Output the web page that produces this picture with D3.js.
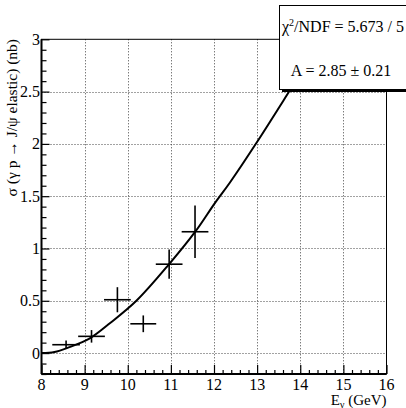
<!DOCTYPE html>
<html lang="en">
<head>
<meta charset="UTF-8">
<title>J/psi photoproduction</title>
<script src="https://cdn.jsdelivr.net/npm/d3@7"></script>
<style>
    body { margin: 0; background: #fff; }
    svg { display: block; }
</style>
</head>
<body>
<div id="graphic"></div>
<script>
    // measured points
    var energy = [8.57, 9.16, 9.76, 10.36, 10.96, 11.56];
    var energyErr = [0.32, 0.31, 0.31, 0.30, 0.31, 0.31];
    var sigma = [0.08, 0.16, 0.51, 0.28, 0.85, 1.16];
    var sigmaErr = [0.04, 0.06, 0.12, 0.08, 0.14, 0.25];

    // fit curve
    var fitE = [8.0, 8.3, 8.65, 9.1, 9.6, 10.2, 10.96, 11.57, 12.02, 12.37, 12.99, 13.72, 14.5];
    var fitSigma = [0, 0.01, 0.057, 0.135, 0.29, 0.5, 0.851, 1.163, 1.434, 1.631, 2.013, 2.486, 3.0];

    var xTicks = [8, 9, 10, 11, 12, 13, 14, 15, 16];
    var yTicks = [0, 0.5, 1, 1.5, 2, 2.5, 3];
    var yTickLabels = ['0', '0.5', '1', '1.5', '2', '2.5', '3'];

    var width = 406, height = 408;
    // plot frame (note: "top" is reserved on window)
    var pLeft = 41.5, pRight = 386.5, pTop = 39.3, pBottom = 374;
    var serif = '"Liberation Serif", "Times New Roman", Times, serif';

    var svg = d3.select('#graphic').append('svg')
        .attr('width', width).attr('height', height)
        .attr('font-family', serif);

    var x = d3.scaleLinear().domain([8, 16]).range([pLeft, pRight]);
    var y = d3.scaleLinear().domain([-0.2, 3]).range([pBottom, pTop]);

    svg.append('defs').append('clipPath').attr('id', 'plot')
        .append('rect').attr('x', pLeft).attr('y', pTop)
        .attr('width', pRight - pLeft).attr('height', pBottom - pTop);

    // grid
    var grid = svg.append('g').attr('stroke', '#444').attr('stroke-width', 1)
        .attr('stroke-dasharray', '1,2');
    grid.selectAll('.gx').data(xTicks.slice(1, -1)).join('line')
        .attr('x1', d => Math.round(x(d)) + 0.5).attr('x2', d => Math.round(x(d)) + 0.5)
        .attr('y1', pTop).attr('y2', pBottom);
    grid.selectAll('.gy').data(yTicks.slice(0, -1)).join('line')
        .attr('y1', d => Math.round(y(d)) + 0.5).attr('y2', d => Math.round(y(d)) + 0.5)
        .attr('x1', pLeft).attr('x2', pRight);

    // axes (ticks inside)
    var xAxis = d3.axisBottom(x).tickValues(d3.range(8, 16.01, 0.2))
        .tickSize(-4).tickFormat('');
    var gx = svg.append('g').attr('transform', 'translate(0,' + pBottom + ')').call(xAxis);
    gx.selectAll('.tick line').filter(d => Math.abs(d - Math.round(d)) < 1e-6).attr('y2', -9);

    var yAxis = d3.axisLeft(y).tickValues(d3.range(-0.2, 3.001, 0.1))
        .tickSize(-5).tickFormat('');
    var gy = svg.append('g').attr('transform', 'translate(' + pLeft + ',0)').call(yAxis);
    gy.selectAll('.tick line').filter(d => Math.abs(d * 2 - Math.round(d * 2)) < 1e-6).attr('x2', 8);

    svg.selectAll('.domain').remove();
    svg.selectAll('.tick line').attr('stroke', '#000').attr('stroke-width', 1.2);

    // frame
    svg.append('rect').attr('x', pLeft).attr('y', pTop)
        .attr('width', pRight - pLeft).attr('height', pBottom - pTop)
        .attr('fill', 'none').attr('stroke', '#000').attr('stroke-width', 1);
    svg.append('line').attr('x1', pLeft).attr('x2', pLeft).attr('y1', pTop).attr('y2', pBottom)
        .attr('stroke', '#000').attr('stroke-width', 2);
    svg.append('line').attr('x1', pLeft).attr('x2', pRight).attr('y1', pBottom).attr('y2', pBottom)
        .attr('stroke', '#000').attr('stroke-width', 2);

    // tick labels
    svg.selectAll('.xl').data(xTicks).join('text')
        .attr('x', d => x(d)).attr('y', 390)
        .attr('text-anchor', 'middle').attr('font-size', 16)
        .text(d => d);
    svg.selectAll('.yl').data(yTicks).join('text')
        .attr('x', 40).attr('y', d => y(d) + 5.5)
        .attr('text-anchor', 'end').attr('font-size', 16)
        .text((d, i) => yTickLabels[i]);

    // axis titles
    var xt = svg.append('text').attr('x', 386.5).attr('y', 405)
        .attr('text-anchor', 'end').attr('font-size', 15);
    xt.append('tspan').text('E');
    xt.append('tspan').attr('font-size', 10).attr('dy', 2.5).text('γ');
    xt.append('tspan').attr('dy', -2.5).text(' (GeV)');

    svg.append('text').attr('transform', 'translate(17,39) rotate(-90)')
        .attr('text-anchor', 'end').attr('font-size', 15.5)
        .text('σ (γ p → J/ψ elastic) (nb)');

    // fit curve
    var fit = fitE.map((e, i) => [e, fitSigma[i]]);
    svg.append('path').datum(fit)
        .attr('clip-path', 'url(#plot)')
        .attr('fill', 'none').attr('stroke', '#000').attr('stroke-width', 2)
        .attr('d', d3.line().x(d => x(d[0])).y(d => y(d[1])).curve(d3.curveCatmullRom.alpha(0.5)));

    // data points with error bars
    var pts = energy.map((e, i) => ({ e: e, ee: energyErr[i], s: sigma[i], se: sigmaErr[i] }));
    var g = svg.append('g').attr('stroke', '#000').attr('stroke-width', 1.6);
    g.selectAll('.ex').data(pts).join('line')
        .attr('x1', d => x(d.e - d.ee)).attr('x2', d => x(d.e + d.ee))
        .attr('y1', d => y(d.s)).attr('y2', d => y(d.s));
    g.selectAll('.ey').data(pts).join('line')
        .attr('x1', d => x(d.e)).attr('x2', d => x(d.e))
        .attr('y1', d => y(d.s - d.se)).attr('y2', d => y(d.s + d.se));

    // stats box
    svg.append('rect').attr('x', 282).attr('y', 8).attr('width', 140).attr('height', 84)
        .attr('fill', '#000');
    svg.append('rect').attr('x', 279.5).attr('y', 5.5).attr('width', 140).attr('height', 84)
        .attr('fill', '#fff').attr('stroke', '#000').attr('stroke-width', 1);
    var s1 = svg.append('text').attr('x', 343).attr('y', 32)
        .attr('text-anchor', 'middle').attr('font-size', 16);
    s1.append('tspan').text('χ');
    s1.append('tspan').attr('font-size', 10).attr('dy', -6).text('2');
    s1.append('tspan').attr('dy', 6).text('/NDF = 5.673 / 5');
    svg.append('text').attr('x', 341).attr('y', 76)
        .attr('text-anchor', 'middle').attr('font-size', 16)
        .text('A = 2.85 ± 0.21');
</script>
</body>
</html>
